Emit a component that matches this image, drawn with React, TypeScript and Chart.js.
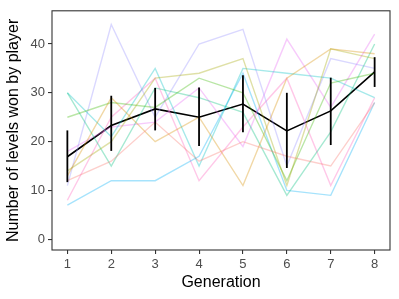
import React, { useEffect, useRef } from "react";
import { Chart, registerables } from "chart.js";

Chart.register(...registerables);

const generations = [1, 2, 3, 4, 5, 6, 7, 8];
const yTicks = [0, 10, 20, 30, 40];

const players = ["p1", "p2", "p3", "p4", "p5", "p6", "p7", "p8", "p9", "p10"];
const playerColors = [
  "#F8766D", "#D89000", "#A3A500", "#39B600", "#00BF7D",
  "#00BFC4", "#00B0F6", "#9590FF", "#E76BF3", "#FF62BC",
];
const p1 = [12, 16, 24, 16, 20, 17, 15, 28];
const p2 = [13, 29, 20, 25, 11, 33, 39, 38];
const p3 = [14, 20, 33, 34, 37, 11, 39, 37];
const p4 = [25, 28, 27, 33, 30, 12, 32, 34];
const p5 = [30, 15, 31, 29, 26, 9, 22, 40];
const p6 = [30, 21, 35, 15, 35, 34, 33, 29];
const p7 = [7, 12, 12, 17, 34, 10, 9, 28];
const p8 = [11, 44, 25, 40, 43, 15, 37, 35];
const p9 = [18, 23, 24, 31, 19, 41, 27, 42];
const p10 = [8, 25, 33, 12, 23, 33, 11, 29];
const playerValues = [p1, p2, p3, p4, p5, p6, p7, p8, p9, p10];

const meanValues = [16.9, 23.3, 26.7, 25.0, 27.7, 22.2, 26.3, 34.3];
const errLow = [11.7, 18.1, 22.3, 19.1, 21.9, 14.6, 19.3, 31.2];
const errHigh = [22.3, 29.4, 31.0, 31.1, 33.6, 30.0, 33.1, 37.3];

function hexA(hex: string, a: number) {
  const r = parseInt(hex.slice(1, 3), 16);
  const g = parseInt(hex.slice(3, 5), 16);
  const b = parseInt(hex.slice(5, 7), 16);
  return `rgba(${r},${g},${b},${a})`;
}

export default function App() {
  const ref = useRef<HTMLCanvasElement | null>(null);
  useEffect(() => {
    if (!ref.current) return;
    const datasets: any[] = players.map((name, i) => ({
      label: name,
      data: generations.map((g, j) => ({ x: g, y: playerValues[i][j] })),
      borderColor: hexA(playerColors[i], 0.35),
      borderWidth: 1.4,
      pointRadius: 0,
      fill: false,
    }));
    datasets.push({
      label: "mean",
      data: generations.map((g, j) => ({ x: g, y: meanValues[j] })),
      borderColor: "#000000",
      borderWidth: 1.6,
      pointRadius: 0,
      fill: false,
    });

    const errorBars = {
      id: "errorBars",
      afterDatasetsDraw(chart: any) {
        const { ctx, scales } = chart;
        ctx.save();
        ctx.strokeStyle = "#000000";
        ctx.lineWidth = 1.8;
        generations.forEach((g, j) => {
          const x = scales.x.getPixelForValue(g);
          ctx.beginPath();
          ctx.moveTo(x, scales.y.getPixelForValue(errLow[j]));
          ctx.lineTo(x, scales.y.getPixelForValue(errHigh[j]));
          ctx.stroke();
        });
        ctx.restore();
      },
    };
    const panelBorder = {
      id: "panelBorder",
      afterDraw(chart: any) {
        const { ctx, chartArea } = chart;
        ctx.save();
        ctx.strokeStyle = "#333333";
        ctx.lineWidth = 1.1;
        ctx.strokeRect(chartArea.left, chartArea.top, chartArea.right - chartArea.left, chartArea.bottom - chartArea.top);
        ctx.restore();
      },
    };

    const chart = new Chart(ref.current, {
      type: "line",
      data: { datasets },
      plugins: [errorBars, panelBorder],
      options: {
        animation: false,
        responsive: false,
        maintainAspectRatio: false,
        layout: { padding: { left: 0, top: 9, right: 9, bottom: 0 } },
        plugins: { legend: { display: false }, tooltip: { enabled: false } },
        scales: {
          x: {
            type: "linear",
            min: 0.65,
            max: 8.35,
            afterFit: (s: any) => { s.height = 49; },
            afterBuildTicks: (s: any) => { s.ticks = generations.map((v) => ({ value: v })); },
            ticks: {
              color: "#4D4D4D",
              padding: 3,
              font: { family: "Liberation Sans", size: 13 },
              maxRotation: 0,
            },
            grid: { display: true, drawOnChartArea: false, drawTicks: true, tickLength: 4, color: "#333333", lineWidth: 1.1 },
            border: { display: false },
            title: {
              display: true,
              text: "Generation",
              color: "#000000",
              font: { family: "Liberation Sans", size: 16 },
              padding: { top: 0, bottom: 7 },
            },
          },
          y: {
            type: "linear",
            min: -2.2,
            max: 46.8,
            afterFit: (s: any) => { s.width = 52; },
            afterBuildTicks: (s: any) => { s.ticks = yTicks.map((v) => ({ value: v })); },
            ticks: {
              color: "#4D4D4D",
              padding: 3,
              font: { family: "Liberation Sans", size: 13 },
            },
            grid: { display: true, drawOnChartArea: false, drawTicks: true, tickLength: 4, color: "#333333", lineWidth: 1.1 },
            border: { display: false },
            title: {
              display: true,
              text: "Number of levels won by player",
              color: "#000000",
              font: { family: "Liberation Sans", size: 16 },
              padding: { top: 4, bottom: 0 },
            },
          },
        },
      },
    });
    return () => chart.destroy();
  }, []);

  return (
    <div style={{ position: "fixed", left: 0, top: 0, width: 399, height: 299, background: "#ffffff" }}>
      <canvas ref={ref} width={399} height={299} />
    </div>
  );
}
